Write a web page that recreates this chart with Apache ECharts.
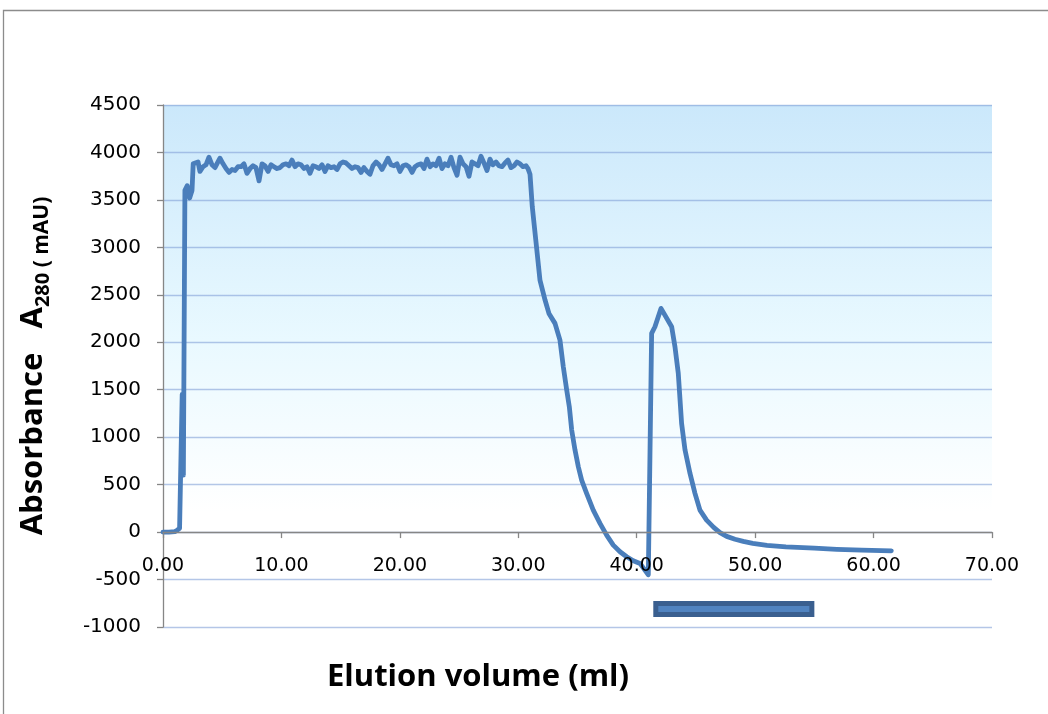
<!DOCTYPE html>
<html>
<head>
<meta charset="utf-8">
<script src="https://cdn.jsdelivr.net/npm/echarts@6/dist/echarts.min.js"></script>
<style>
html,body{margin:0;padding:0;background:#fff;}
#chart{width:1048px;height:714px;}
</style>
</head>
<body>
<div id="chart"></div>
<script>
// ---- Data ----
const elutionVolume = [
  0.0, 0.5, 1.0, 1.2, 1.4, 1.55, 1.62, 1.72, 1.85, 2.05, 2.25, 2.45, 2.55,
  2.70, 2.96, 3.12, 3.38, 3.63, 3.88, 4.14, 4.39, 4.64, 4.81, 5.07, 5.32, 5.57, 5.83,
  6.08, 6.33, 6.59, 6.84, 7.09, 7.35, 7.60, 7.85, 8.11, 8.36, 8.61, 8.87, 9.12, 9.37, 9.63,
  9.88, 10.13, 10.39, 10.64, 10.89, 11.15, 11.40, 11.65, 11.91, 12.16, 12.41, 12.67, 12.92,
  13.17, 13.43, 13.68, 13.93, 14.19, 14.44, 14.69, 14.95, 15.20, 15.45, 15.71, 15.96, 16.21,
  16.47, 16.72, 16.97, 17.23, 17.48, 17.73, 17.99, 18.24, 18.49, 18.75, 19.00,
  19.25, 19.50, 19.76, 20.01, 20.27, 20.52, 20.77, 21.03, 21.28, 21.53, 21.79, 22.04, 22.29,
  22.55, 22.80, 23.05, 23.31, 23.56, 23.81, 24.07, 24.32, 24.57, 24.83, 25.08, 25.33, 25.59,
  25.84, 26.09, 26.34, 26.60, 26.85, 27.10, 27.36, 27.61, 27.86, 28.12, 28.37,
  28.62, 28.88, 29.13, 29.38, 29.64, 29.89, 30.14, 30.40, 30.65, 30.82, 30.99,
  31.18, 31.50, 31.83, 32.26, 32.60, 33.10, 33.52, 33.80, 34.09, 34.31, 34.51, 34.79, 35.07,
  35.35, 35.77, 36.33, 36.90, 37.46, 38.02, 38.59, 39.15, 39.71, 40.28, 40.98,
  41.26, 41.54, 42.05, 42.95, 43.23, 43.51, 43.79, 44.08, 44.50, 44.92, 45.34, 45.90,
  46.50, 47.03, 47.60, 48.30, 49.00, 49.80, 51.00, 52.60, 55.00, 56.90, 59.00, 61.50
];
const absorbance = [
  0, 0, 5, 20, 40, 50, 1450, 600, 3600, 3650, 3520, 3600, 3880,
  3860, 3900, 3800, 3850, 3870, 3950, 3870, 3840, 3900, 3940, 3880, 3830, 3790, 3820,
  3810, 3850, 3850, 3880, 3780, 3830, 3860, 3840, 3700, 3880, 3860, 3800, 3870, 3850, 3830,
  3840, 3870, 3880, 3860, 3920, 3850, 3880, 3870, 3830, 3850, 3780, 3860, 3850,
  3830, 3870, 3800, 3860, 3840, 3850, 3820, 3880, 3900, 3890, 3860, 3830, 3850,
  3840, 3790, 3840, 3800, 3770, 3860, 3900, 3870, 3820, 3880, 3940,
  3870, 3860, 3880, 3800, 3860, 3870, 3850, 3790, 3850, 3870, 3880, 3830, 3930,
  3850, 3880, 3860, 3940, 3830, 3880, 3860, 3950, 3840, 3760, 3950, 3880, 3850,
  3750, 3900, 3880, 3860, 3960, 3890, 3810, 3930, 3870, 3900, 3860,
  3850, 3890, 3920, 3840, 3860, 3900, 3880, 3850, 3860, 3830, 3770,
  3430, 3050, 2655, 2445, 2300, 2199, 2023, 1742, 1496, 1320, 1075, 864, 688,
  548, 408, 232, 92, -32, -137, -207, -260, -302, -330, -450,
  2094, 2164, 2357, 2164, 1953, 1672, 1145, 864, 618, 408, 232, 126,
  50, -5, -45, -75, -98, -119, -140, -155, -170, -182, -190, -197
];
const fractionStart = 41.4;
const fractionEnd = 55.0;
const fractionLevel = -810;

const xTicks = { min: 0, max: 70, interval: 10 };
const yTicks = { min: -1000, max: 4500, interval: 500 };

const curve = elutionVolume.map((v, i) => [v, absorbance[i]]);
const fractionBar = [[fractionStart, fractionEnd, fractionLevel]];

const chart = echarts.init(document.getElementById('chart'));
const labelFont = 'DejaVu Sans';
const titleFont = 'Open Sans';
const gridBottom = 87;

chart.setOption({
  animation: false,
  backgroundColor: '#ffffff',
  grid: {
    left: 163, right: 56, top: 105, bottom: gridBottom,
    show: true, borderWidth: 0,
    backgroundColor: new echarts.graphic.LinearGradient(0, 0, 0, 1, [
      { offset: 0, color: '#cbe8fb' },
      { offset: 0.45, color: '#e9f9ff' },
      { offset: 0.78, color: '#ffffff' },
      { offset: 1, color: '#ffffff' }
    ])
  },
  xAxis: {
    type: 'value',
    min: xTicks.min, max: xTicks.max, interval: xTicks.interval,
    axisLine: { show: true, onZero: false, lineStyle: { color: '#868686', width: 1.3 } },
    axisTick: { show: true, length: 6, lineStyle: { color: '#868686', width: 1.3 } },
    axisLabel: {
      formatter: v => v.toFixed(2),
      color: '#000', fontFamily: labelFont, fontSize: 19, margin: 24
    },
    splitLine: { show: false },
    z: 5
  },
  yAxis: {
    type: 'value',
    min: yTicks.min, max: yTicks.max, interval: yTicks.interval,
    axisLine: { show: true, onZero: false, lineStyle: { color: '#868686', width: 1.3 } },
    axisTick: { show: true, length: 6, lineStyle: { color: '#868686', width: 1.3 } },
    axisLabel: { formatter: v => String(v), color: '#000', fontFamily: labelFont, fontSize: 20, margin: 22 },
    splitLine: { show: true, lineStyle: { color: 'rgba(130,160,215,0.6)', width: 1.3 } },
    name: '{a|Absorbance   A}{s|280}{u| ( mAU)}',
    nameLocation: 'middle',
    nameGap: 110,
    nameRotate: 90,
    nameTextStyle: {
      rich: {
        a: { fontFamily: titleFont, fontWeight: 'bold', fontSize: 31, color: '#000', lineHeight: 40, verticalAlign: 'middle' },
        s: { fontFamily: titleFont, fontWeight: 'bold', fontSize: 20, color: '#000', lineHeight: 22, verticalAlign: 'bottom' },
        u: { fontFamily: titleFont, fontWeight: 'bold', fontSize: 21, color: '#000', lineHeight: 30, verticalAlign: 'bottom' }
      }
    }
  },
  graphic: [
    {
      type: 'rect', silent: true, z: -10,
      shape: { x: 3.5, y: 10.5, width: 1100, height: 800 },
      style: { fill: 'none', stroke: '#8c8c8c', lineWidth: 1.3 }
    },
    {
      type: 'text', silent: true,
      x: 478, y: 677,
      style: {
        text: 'Elution volume (ml)',
        align: 'center', verticalAlign: 'middle',
        fontFamily: titleFont, fontWeight: 'bold', fontSize: 31, fill: '#000'
      }
    }
  ],
  series: [
    {
      type: 'line',
      data: curve,
      showSymbol: false,
      symbol: 'none',
      smooth: false,
      lineStyle: { color: '#4a7ebb', width: 4.8, join: 'round', cap: 'round' },
      z: 3
    },
    {
      type: 'custom',
      data: fractionBar,
      renderItem: (params, api) => {
        const p0 = api.coord([api.value(0), api.value(2)]);
        const p1 = api.coord([api.value(1), api.value(2)]);
        return {
          type: 'rect',
          shape: { x: p0[0] + 2.5, y: p0[1] - 5.5, width: p1[0] - p0[0] - 5, height: 11 },
          style: { fill: '#5083c0', stroke: '#3a5f8f', lineWidth: 5 }
        };
      },
      z: 4
    }
  ]
});

// Put the x axis on the y = 0 line (as the original does), using the y scale.
const zeroPx = chart.convertToPixel({ yAxisIndex: 0 }, 0);
const bottomPx = chart.getHeight() - gridBottom;
chart.setOption({ xAxis: { offset: zeroPx - bottomPx } });
</script>
</body>
</html>
